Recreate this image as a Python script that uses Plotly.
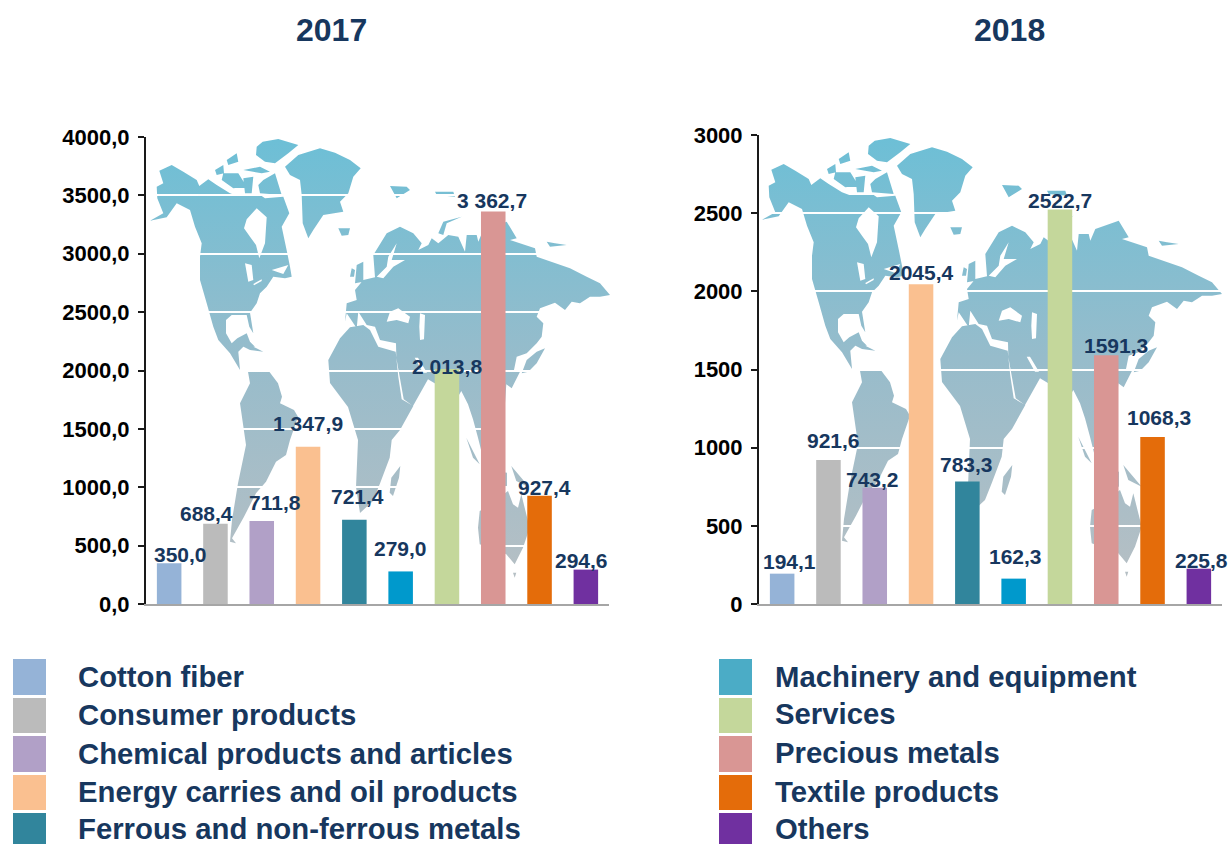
import base64
import plotly.graph_objects as go

W, H = 1229, 844
categories = ["Cotton fiber", "Consumer products", "Chemical products and articles",
              "Energy carries and oil products", "Ferrous and non-ferrous metals",
              "Machinery and equipment", "Services", "Precious metals", "Textile products", "Others"]
values_2017 = [350.0, 688.4, 711.8, 1347.9, 721.4, 279.0, 2013.8, 3362.7, 927.4, 294.6]
labels_2017 = ["350,0", "688,4", "711,8", "1 347,9", "721,4", "279,0", "2 013,8", "3 362,7", "927,4", "294,6"]
values_2018 = [194.1, 921.6, 743.2, 2045.4, 783.3, 162.3, 2522.7, 1591.3, 1068.3, 225.8]
labels_2018 = ["194,1", "921,6", "743,2", "2045,4", "783,3", "162,3", "2522,7", "1591,3", "1068,3", "225,8"]
ticks_2017 = [0, 500, 1000, 1500, 2000, 2500, 3000, 3500, 4000]
ticktext_2017 = ["0,0", "500,0", "1000,0", "1500,0", "2000,0", "2500,0", "3000,0", "3500,0", "4000,0"]
ticks_2018 = [0, 500, 1000, 1500, 2000, 2500, 3000]
ticktext_2018 = ["0", "500", "1000", "1500", "2000", "2500", "3000"]
bar_colors = ["#95B3D7", "#BBBBBB", "#B1A0C7", "#FAC090", "#31859C", "#0099CC", "#C4D79B", "#D99694", "#E46C0A", "#7030A0"]
legend_colors = ["#95B3D7", "#BBBBBB", "#B1A0C7", "#FAC090", "#31859C", "#4BACC6", "#C4D79B", "#D99694", "#E46C0A", "#7030A0"]

NAVY = "#17375E"
FONT = "Liberation Sans"

# label nudges (px) as hand-placed in the source chart
xshift_2017 = [11, -9, 13, 0, 3, 0, 0, -1, 5, -4]
yshift_2017 = [9, 10, 18, 23, 23, 23, 2, 11, 8, 9]
xshift_2018 = [7, 5, -2, 0, -1, 2, 0, 10, 6, 3]
yshift_2018 = [12, 19, 8, 12, 17, 22, 9, 10, 19, 8]

# Decorative backdrop picture: a hand-traced world outline, in groups with their own origin/scale.
A = (150, 130, 1 / 3, 1 / 3)
B = (370, 180, 1 / 3, 1 / 3)
C = (373, 341, 1 / 3, 1 / 3)
Z = (0, 120, 0.4, 1 / 3)
LAND = [
 (A, "28,122 65,105 100,125 140,150 148,168 175,148 200,165 240,190 262,198 335,198 345,205 400,200 418,250 395,290 412,370 420,410 425,440 405,445 370,440 350,470 330,490 320,520 300,548 310,610 298,590 290,555 245,555 228,570 228,610 245,640 262,625 290,610 300,635 315,650 280,650 265,665 270,720 240,670 205,630 190,590 170,520 150,450 150,380 155,340 135,290 120,240 80,220 50,262 0,272 40,250 22,205 20,170 40,160"),
 (A, "338,35 385,27 445,45 415,70 375,100 345,95 318,75 320,50"),
 (A, "405,110 445,75 510,55 555,68 600,90 632,115 610,140 595,190 570,215 580,245 520,255 490,300 475,325 458,280 455,195 450,150 420,135"),
 (A, "340,150 375,130 395,195 330,190 325,165"),
 (A, "220,130 265,130 290,170 250,175 215,150"),
 (A, "195,120 220,105 222,130 200,135"),
 (A, "230,90 260,70 265,95 235,105"),
 (A, "280,120 330,110 360,125 335,130"),
 (A, "280,145 310,140 305,190 285,190"),
 (A, "565,295 600,295 595,315 575,317"),
 (A, "600,440 605,415 615,420 612,440"),
 (A, "620,405 640,395 640,430 640,455 615,460"),
 (A, "270,645 310,650 340,665 300,660"),
 (A, "535,690 570,625 600,592 640,585 660,600 685,650 737,665 745,740 755,808 790,828 750,900 725,930 719,983 689,1063 669,1113 630,1149 618,1071 624,930 594,831 540,759"),
 (A, "751,1008 747,1043 729,1098 719,1088 724,1043"),
 (B, "-75,425 -70,370 -40,360 -45,330 -20,300 15,292 10,225 50,160 90,140 130,160 155,190 145,210 175,195 185,175 205,190 235,165 265,170 285,215 290,165 320,165 325,185 340,150 410,125 440,175 420,180 495,205 500,230 600,265 650,290 690,310 720,345 690,350 660,350 630,370 605,365 585,390 555,368 510,385 500,410 520,430 515,470 500,490 470,520 440,530 432,570 450,575 425,625 409,613 404,683 354,713 379,773 339,833 324,773 309,718 294,673 274,633 239,693 229,738 204,663 199,613 174,598 129,678 101,658 79,533 78,490 30,480 15,440 -10,435 -35,395 -40,445 -70,400"),
 (B, "500,515 525,505 500,550 475,575 455,580 470,540"),
 (B, "60,18 110,20 120,30 80,55"),
 (B, "195,35 250,35 255,50 200,45"),
 (B, "275,110 220,125 205,160 220,165 230,130"),
 (B, "530,185 555,190 590,195 540,200"),
 (C, "320,510 330,505 405,450 420,490 435,500 445,460 470,560 450,620 425,670 400,640 320,610 315,560"),
 (C, "415,375 470,440 430,420"),
 (C, "280,290 320,370 300,350"),
 (C, "340,385 402,395 402,440 345,430"),
 (C, "420,695 430,695 425,710"),
 (Z, "620,755 670,750 695,790 705,830 700,850 735,870 745,890 725,960 715,1005 690,1025 665,1085 640,1120 610,1190 580,1255 590,1270 575,1265 580,1200 595,1090 615,975 600,850 625,790"),
]
WATER = [
 (A, "320,235 350,262 345,340 328,385 318,345 300,320 282,295 290,268"),
 (A, "285,400 305,405 310,450 295,455"),
 (A, "310,462 335,448 335,453 312,466"),
 (A, "365,420 415,405 400,432 380,425"),
 (B, "20,290 50,260 55,230 80,190 65,240 105,240 70,260 40,295"),
 (B, "50,425 60,395 85,385 120,410 115,430 80,420"),
 (B, "150,400 165,405 162,478 150,480 148,440"),
 (C, "125,50 135,50 162,95 150,95"),
]


def trace(group):
    (ox, oy, sx, sy), pts = group
    out = []
    for p in pts.split():
        x, y = p.split(",")
        out.append(f"{ox + float(x) * sx:.1f},{oy + float(y) * sy:.1f}")
    return "M" + " L".join(out) + " Z"


land_path = " ".join(trace(g) for g in LAND)
water_path = " ".join(trace(g) for g in WATER)
svg = ('<svg xmlns="http://www.w3.org/2000/svg" width="620" height="620" viewBox="0 0 620 620">'
       '<defs><linearGradient id="g" gradientUnits="userSpaceOnUse" x1="0" y1="140" x2="0" y2="580">'
       '<stop offset="0" stop-color="#6DBFD6"/><stop offset="0.5" stop-color="#97BCCB"/><stop offset="1" stop-color="#B6BFC4"/>'
       '</linearGradient></defs>'
       f'<path fill="url(#g)" d="{land_path}"/><path fill="#FFFFFF" d="{water_path}"/></svg>')
MAP = "data:image/svg+xml;base64," + base64.b64encode(svg.encode()).decode()

fig = go.Figure()
fig.add_trace(go.Bar(x=categories, y=values_2017, marker=dict(color=bar_colors, line_width=0), xaxis="x", yaxis="y", width=0.53, showlegend=False))
fig.add_trace(go.Bar(x=categories, y=values_2018, marker=dict(color=bar_colors, line_width=0), xaxis="x2", yaxis="y2", width=0.53, showlegend=False))


def px_x(v):
    return v / W


def px_y(v):
    return 1 - v / H


def yaxis(dom, rng, vals, text, anchor):
    return dict(domain=dom, range=rng, tickvals=vals, ticktext=[f"<b>{t}</b>" for t in text], anchor=anchor, automargin=False,
                showgrid=True, gridcolor="#FFFFFF", gridwidth=2, zeroline=False, showline=True, linecolor="#1A1A1A", linewidth=2,
                ticks="outside", ticklen=6, tickwidth=2, tickcolor="#1A1A1A", ticklabelstandoff=4,
                tickfont=dict(family=FONT, size=22, color="#000000"), layer="below traces")


def xaxis(dom, anchor):
    return dict(domain=dom, anchor=anchor, type="category", range=[-0.5, 9.5], automargin=False, showticklabels=False, ticks="", showline=True,
                linecolor="#A6A6A6", linewidth=2, showgrid=False, zeroline=False)


ann = []
for cat, v, t, dx, dy in zip(categories, values_2017, labels_2017, xshift_2017, yshift_2017):
    ann.append(dict(x=cat, y=v, xref="x", yref="y", text=f"<b>{t}</b>", showarrow=False, xanchor="center", yanchor="middle", xshift=dx, yshift=dy,
                    font=dict(family=FONT, size=21, color=NAVY)))
for cat, v, t, dx, dy in zip(categories, values_2018, labels_2018, xshift_2018, yshift_2018):
    ann.append(dict(x=cat, y=v, xref="x2", yref="y2", text=f"<b>{t}</b>", showarrow=False, xanchor="center", yanchor="middle", xshift=dx, yshift=dy,
                    font=dict(family=FONT, size=21, color=NAVY)))
for t, x in (("<b>2017</b>", 331), ("<b>2018</b>", 1009)):
    ann.append(dict(x=px_x(x), y=px_y(30), xref="paper", yref="paper", text=t, showarrow=False, xanchor="center", yanchor="middle",
                    font=dict(family=FONT, size=32, color=NAVY)))

shapes = []
rows = [(659, 695, 676), (698, 733, 714), (736, 772, 753), (775, 810, 791), (813, 845, 828)]
rows2 = [(659, 695, 676), (698, 733, 713), (736, 772, 752), (775, 810, 791), (813, 845, 828)]
for i, (cat, col) in enumerate(zip(categories, legend_colors)):
    left = i < 5
    top, bot, mid = (rows if left else rows2)[i % 5]
    x0 = 13 if left else 719
    shapes.append(dict(type="rect", xref="paper", yref="paper", x0=px_x(x0), x1=px_x(x0 + 33), y0=px_y(bot), y1=px_y(top),
                       fillcolor=col, line_width=0))
    ann.append(dict(x=px_x(76 if left else 773), y=px_y(mid), xref="paper", yref="paper", text=f"<b>{cat}</b>", showarrow=False,
                    xanchor="left", yanchor="middle", font=dict(family=FONT, size=29.3, color=NAVY)))

images = [dict(source=MAP, xref="paper", yref="paper", x=0, y=1, sizex=620 / W, sizey=620 / H, xanchor="left", yanchor="top", sizing="stretch", layer="below"),
          dict(source=MAP, xref="paper", yref="paper", x=px_x(612), y=px_y(-1), sizex=620 / W, sizey=620 / H, xanchor="left", yanchor="top", sizing="stretch", layer="below")]

fig.update_layout(
    width=W, height=H, autosize=False, margin=dict(l=0, r=0, t=0, b=0, autoexpand=False),
    paper_bgcolor="white", plot_bgcolor="rgba(0,0,0,0)",
    xaxis=xaxis([px_x(146), px_x(609)], "y"),
    yaxis=yaxis([px_y(604), px_y(137)], [0, 4000], ticks_2017, ticktext_2017, "x"),
    xaxis2=xaxis([px_x(759), px_x(1222)], "y2"),
    yaxis2=yaxis([px_y(604), px_y(135)], [0, 3000], ticks_2018, ticktext_2018, "x2"),
    annotations=ann, shapes=shapes, images=images,
)

fig.write_html("out.html", config={"displayModeBar": False}, post_script="document.body.style.margin='0';document.body.style.overflow='hidden';")
